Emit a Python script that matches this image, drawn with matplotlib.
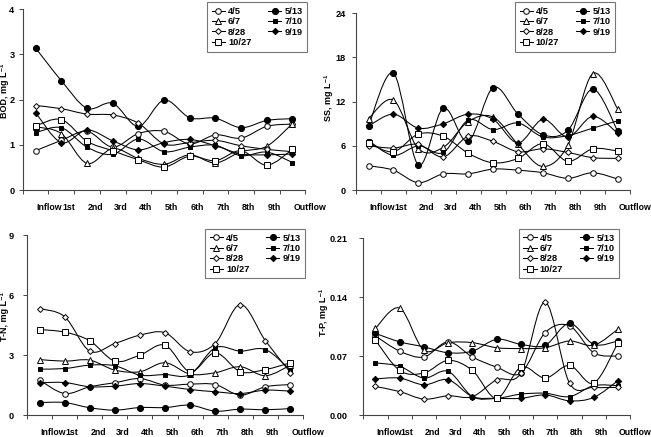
import matplotlib
matplotlib.use("Agg")
import matplotlib.pyplot as plt
from matplotlib.path import Path
from matplotlib.patches import PathPatch
from matplotlib.lines import Line2D
import numpy as np

plt.rcParams['font.family'] = ['Liberation Sans', 'DejaVu Sans']
plt.rcParams['font.weight'] = 'bold'

# categories
stages = ["Inflow", "1st", "2nd", "3rd", "4th", "5th", "6th", "7th", "8th", "9th", "Outflow"]
dates = ["4/5", "5/13", "6/7", "7/10", "8/28", "9/19", "10/27"]

# values, one row per date
bod = [
    [0.87, 1.10, 1.30, 0.95, 1.25, 1.30, 1.02, 1.22, 1.15, 1.41, 1.46],
    [3.14, 2.42, 1.81, 1.92, 1.41, 1.99, 1.60, 1.59, 1.38, 1.54, 1.58],
    [1.40, 1.25, 0.59, 0.92, 0.70, 0.57, 0.78, 0.60, 0.85, 0.97, 1.47],
    [1.27, 1.38, 0.95, 0.79, 1.13, 0.85, 0.95, 0.99, 0.76, 0.84, 0.61],
    [1.87, 1.80, 1.68, 1.66, 1.48, 1.02, 1.05, 1.10, 0.98, 0.90, 0.85],
    [1.71, 1.05, 1.33, 1.09, 0.89, 1.05, 1.12, 0.98, 0.80, 0.78, 0.80],
    [1.42, 1.56, 1.08, 0.87, 0.67, 0.51, 0.75, 0.65, 0.87, 0.55, 0.90],
]
ss = [
    [3.3, 2.7, 1.0, 2.2, 2.2, 2.85, 2.7, 2.35, 1.6, 2.35, 1.5],
    [8.7, 15.85, 3.4, 11.1, 6.6, 13.9, 10.3, 7.5, 8.1, 13.7, 8.0],
    [9.7, 12.2, 5.6, 5.8, 9.3, 9.9, 6.2, 3.2, 6.1, 15.8, 11.0],
    [6.7, 4.7, 6.0, 5.1, 9.5, 8.2, 9.1, 7.2, 7.4, 8.4, 9.4],
    [6.0, 5.7, 6.2, 4.5, 7.3, 6.6, 5.2, 5.6, 5.1, 4.4, 4.3],
    [8.7, 10.3, 8.4, 9.0, 10.3, 9.6, 6.4, 9.6, 7.2, 10.0, 7.7],
    [6.4, 5.2, 7.6, 7.3, 5.0, 3.7, 4.3, 6.3, 3.9, 5.6, 5.3],
]
tn = [
    [1.75, 1.08, 1.42, 1.62, 1.83, 1.50, 1.55, 1.53, 1.00, 1.42, 1.53],
    [0.63, 0.63, 0.37, 0.25, 0.38, 0.38, 0.50, 0.20, 0.30, 0.27, 0.33],
    [2.78, 2.70, 2.75, 2.25, 2.17, 2.62, 2.05, 2.12, 2.42, 1.97, 2.50],
    [2.30, 2.33, 2.50, 2.47, 2.00, 2.03, 2.03, 3.37, 3.20, 3.28, 2.25],
    [5.33, 4.92, 3.20, 3.58, 4.00, 4.12, 3.17, 3.58, 5.53, 3.72, 2.13],
    [1.62, 1.63, 1.42, 1.45, 1.58, 1.45, 1.28, 1.17, 1.08, 1.25, 1.20],
    [4.28, 4.15, 3.72, 2.70, 3.00, 3.50, 2.17, 3.12, 2.17, 2.28, 2.62],
]
tp = [
    [0.094, 0.076, 0.069, 0.087, 0.069, 0.057, 0.050, 0.098, 0.106, 0.074, 0.070],
    [0.097, 0.087, 0.081, 0.074, 0.076, 0.090, 0.084, 0.083, 0.109, 0.084, 0.088],
    [0.103, 0.127, 0.077, 0.086, 0.086, 0.080, 0.079, 0.080, 0.088, 0.083, 0.102],
    [0.062, 0.058, 0.044, 0.052, 0.022, 0.020, 0.025, 0.026, 0.022, 0.035, 0.035],
    [0.034, 0.028, 0.019, 0.023, 0.022, 0.042, 0.050, 0.134, 0.038, 0.033, 0.033],
    [0.043, 0.044, 0.036, 0.042, 0.022, 0.020, 0.020, 0.024, 0.017, 0.021, 0.041],
    [0.089, 0.053, 0.050, 0.065, 0.053, 0.020, 0.057, 0.044, 0.059, 0.038, 0.086],
]

# marker, face colour, size for each date
styles = [
    ("o", "white", 4.0),
    ("o", "black", 4.4),
    ("^", "white", 3.8),
    ("s", "black", 2.4),
    ("D", "white", 3.0),
    ("D", "black", 3.2),
    ("s", "white", 4.4),
]


def smooth_path(xs, ys):
    # Excel style smoothed line: cubic bezier through every point
    n = len(xs)
    verts = [(xs[0], ys[0])]
    codes = [Path.MOVETO]
    for i in range(n - 1):
        x0, y0 = (xs[i - 1], ys[i - 1]) if i > 0 else (xs[i], ys[i])
        x3, y3 = (xs[i + 2], ys[i + 2]) if i + 2 < n else (xs[i + 1], ys[i + 1])
        c1 = (xs[i] + (xs[i + 1] - x0) / 6, ys[i] + (ys[i + 1] - y0) / 6)
        c2 = (xs[i + 1] - (x3 - xs[i]) / 6, ys[i + 1] - (y3 - ys[i]) / 6)
        verts += [c1, c2, (xs[i + 1], ys[i + 1])]
        codes += [Path.CURVE4] * 3
    return Path(verts, codes)


def draw_panel(ax, data, yticks, fmt, ylabel, ylab_x, ylab_y, ypad, legend_xy):
    x = np.arange(len(stages))
    for vals, (mk, fc, ms) in zip(data, styles):
        ax.add_patch(PathPatch(smooth_path(x, vals), fill=False, lw=0.75,
                               edgecolor="black"))
        ax.plot(x, vals, linestyle="none", marker=mk, markerfacecolor=fc,
                markeredgecolor="black", markersize=ms, markeredgewidth=0.7,
                zorder=3)

    ax.set_xlim(-0.5, len(stages) - 0.5)
    ax.set_ylim(yticks[0], yticks[-1])
    ax.set_yticks(yticks)
    ax.set_yticklabels([fmt.format(v) for v in yticks])

    # tick marks between categories, labels at categories
    ax.set_xticks(np.arange(len(stages) + 1) - 0.5)
    ax.set_xticklabels([])
    ax.set_xticks(x + 0.03, minor=True)
    ax.set_xticklabels(stages, minor=True)
    for lab in ax.get_xticklabels(minor=True):
        lab.set_horizontalalignment("left")
    ax.tick_params(axis="x", which="major", direction="out", length=3,
                   width=0.7, color="#444444")
    ax.tick_params(axis="x", which="minor", length=0, pad=9.5, labelsize=6.3)
    ax.tick_params(axis="y", direction="out", length=3, width=0.7,
                   color="#444444", pad=ypad, labelsize=6.6)

    for side in ("top", "right"):
        ax.spines[side].set_visible(False)
    for side in ("left", "bottom"):
        ax.spines[side].set_color("#444444")
        ax.spines[side].set_linewidth(0.8)

    ax.set_ylabel(ylabel, fontsize=6.5, fontweight="bold")
    ax.yaxis.set_label_coords(ylab_x, ylab_y)

    handles = []
    for d, (mk, fc, ms) in zip(dates, styles):
        handles.append(Line2D([0], [0], color="black", lw=0.75, marker=mk,
                              markerfacecolor=fc, markeredgecolor="black",
                              markersize=ms, markeredgewidth=0.7, label=d))
    order = [0, 2, 4, 6, 1, 3, 5]
    leg = ax.legend([handles[i] for i in order], [dates[i] for i in order],
                    ncol=2, loc="upper left", bbox_to_anchor=legend_xy,
                    bbox_transform=fig.transFigure, borderaxespad=0,
                    fontsize=6.7, frameon=True, fancybox=False,
                    handlelength=1.4, handletextpad=0.35, columnspacing=1.8,
                    labelspacing=0.15, borderpad=0.5)
    leg.get_frame().set_edgecolor("#555555")
    leg.get_frame().set_linewidth(0.8)
    for t in leg.get_texts():
        t.set_fontweight("bold")


fig = plt.figure(figsize=(6.51, 4.37), dpi=100)

ax1 = fig.add_axes([0.035, 0.565, 0.434, 0.414])
ax2 = fig.add_axes([0.547, 0.565, 0.421, 0.405])
ax3 = fig.add_axes([0.0415, 0.050, 0.424, 0.412])
ax4 = fig.add_axes([0.558, 0.050, 0.410, 0.405])

draw_panel(ax1, bod, [0, 1, 2, 3, 4], "{:g}", "BOD, mg L⁻¹", -0.05, 0.55, 3.0,
           (0.318, 0.995))
draw_panel(ax2, ss, [0, 6, 12, 18, 24], "{:g}", "SS, mg L⁻¹", -0.085, 0.52, 4.3,
           (0.791, 0.995))
draw_panel(ax3, tn, [0, 3, 6, 9], "{:g}", "T-N, mg L⁻¹", -0.066, 0.55, 6.5,
           (0.315, 0.476))
draw_panel(ax4, tp, [0.0, 0.07, 0.14, 0.21], "{:.2f}", "T-P, mg L⁻¹", -0.132, 0.58, 8.0,
           (0.797, 0.476))

fig.savefig("out.png", dpi=100, facecolor="white")
